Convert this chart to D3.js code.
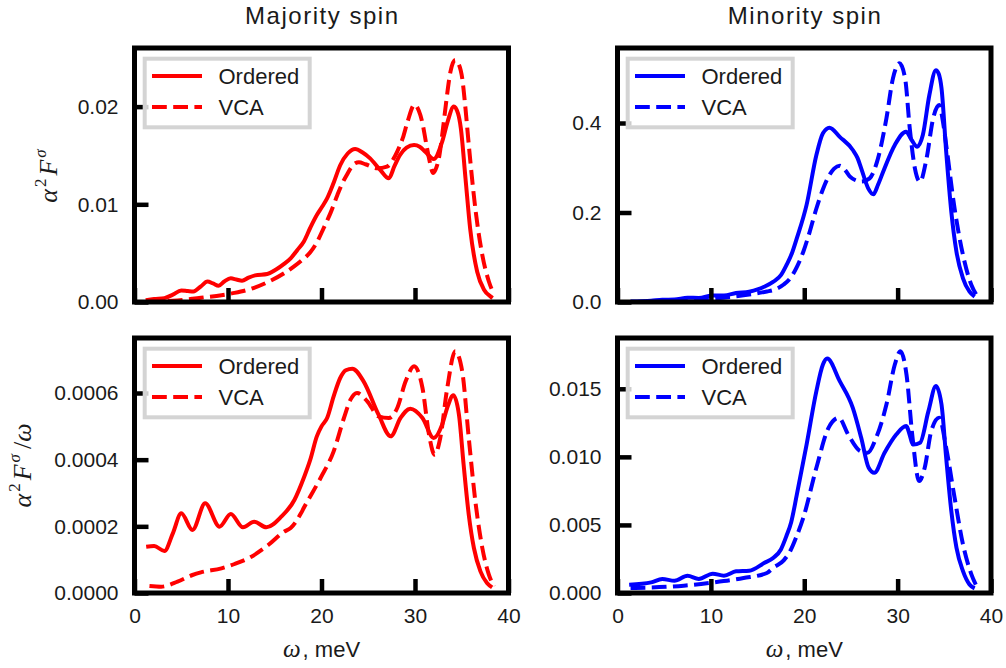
<!DOCTYPE html>
<html>
<head>
<meta charset="utf-8">
<script src="https://cdn.jsdelivr.net/npm/d3@7"></script>
<style>
  body { margin: 0; background: #fff; }
  text { font-family: "Liberation Sans", Arial, sans-serif; fill: #1a1a1a; }
  .math { font-family: "Liberation Serif", "DejaVu Serif", serif; font-style: italic; }
</style>
</head>
<body>
<div class="chart"></div>
<script>
const width = 1006;
const height = 668;

// shared x axis (omega, meV)
const xTicks = [0, 10, 20, 30, 40];
const seriesNames = ['Ordered', 'VCA'];
const columnTitles = ['Majority spin', 'Minority spin'];

// y ticks and their labels
const yTicksMajA2F = [0, 0.01, 0.02];
const yLabelsMajA2F = ['0.00', '0.01', '0.02'];
const yTicksMinA2F = [0, 0.2, 0.4];
const yLabelsMinA2F = ['0.0', '0.2', '0.4'];
const yTicksMajA2Fw = [0, 0.0002, 0.0004, 0.0006];
const yLabelsMajA2Fw = ['0.0000', '0.0002', '0.0004', '0.0006'];
const yTicksMinA2Fw = [0, 0.005, 0.010, 0.015];
const yLabelsMinA2Fw = ['0.000', '0.005', '0.010', '0.015'];

// majority spin, alpha^2 F  [omega, value]
const majOrderedA2F = [[1.2,0.00017],[2.1,0.0003],[3.2,0.0004],[4.1,0.00075],[5.0,0.00118],[5.7,0.00112],[6.3,0.00108],[7.1,0.0016],
  [7.8,0.0021],[8.4,0.0019],[9.0,0.00167],[9.6,0.0021],[10.3,0.00242],[10.9,0.0023],[11.5,0.00218],[12.2,0.0025],[12.9,0.00273],
  [14.2,0.00287],[15.1,0.0033],[16.0,0.0039],[16.7,0.00447],[17.4,0.0053],[18.1,0.00617],[18.8,0.0076],[19.5,0.0089],[20.1,0.0098],
  [20.6,0.0106],[21.3,0.0122],[22.0,0.0140],[22.8,0.0152],[23.6,0.01566],[24.4,0.0153],[25.2,0.0147],[26.3,0.0135],[27.2,0.01266],
  [27.8,0.0139],[28.4,0.01505],[29.1,0.0158],[29.9,0.01607],[30.5,0.0159],[31.1,0.01538],[32.0,0.01464],[32.9,0.0164],[33.5,0.0185],
  [34.15,0.0200],[34.6,0.0193],[34.9,0.0178],[35.4,0.01266],[35.9,0.0075],[36.65,0.0031],[37.4,0.00123],[38.1,0.00055],[38.3,0.0004]];
const majVcaA2F = [[1.3,0.00003],[2.9,0.00006],[4.6,0.00016],[6.2,0.00033],[7.1,0.00044],[9.3,0.00069],[10.7,0.00093],[12.5,0.00136],
  [14.3,0.00206],[16.0,0.00294],[17.0,0.0036],[17.8,0.0042],[18.8,0.0051],[19.5,0.0061],[20.2,0.0075],[21.0,0.0092],[21.7,0.01095],
  [22.2,0.0121],[22.7,0.0130],[23.2,0.0138],[23.6,0.0142],[24.0,0.0143],[24.7,0.0141],[26.0,0.01368],[27.0,0.01385],[27.6,0.0145],
  [28.1,0.0154],[28.7,0.0168],[29.2,0.01845],[29.95,0.0202],[30.4,0.0196],[30.8,0.0183],[31.2,0.0162],[31.5,0.0147],[31.95,0.0132],
  [32.3,0.0138],[32.55,0.0147],[33.0,0.0178],[33.3,0.0202],[33.8,0.0236],[34.3,0.02477],[34.7,0.0243],[35.05,0.0229],[35.4,0.0198],
  [35.75,0.0161],[36.5,0.0092],[37.2,0.0048],[37.9,0.0021],[38.4,0.0009]];

// minority spin, alpha^2 F
const minOrderedA2F = [[1.4,0.001],[3.6,0.0028],[4.8,0.005],[6.1,0.0055],[7.5,0.0095],[8.7,0.009],[10.2,0.0145],[11.4,0.0145],
  [12.7,0.020],[14.1,0.023],[15.0,0.028],[15.7,0.034],[16.7,0.0454],[17.5,0.060],[18.1,0.0827],[18.7,0.110],[19.2,0.142],[20.25,0.217],
  [21.3,0.3285],[22.0,0.377],[22.7,0.3896],[23.8,0.369],[25.2,0.3397],[25.7,0.322],[26.1,0.2987],[26.85,0.254],[27.4,0.2407],
  [27.9,0.262],[28.45,0.291],[29.7,0.351],[30.9,0.3806],[31.5,0.362],[32.1,0.347],[32.7,0.373],[33.4,0.4626],[34.1,0.518],[34.4,0.51],
  [34.7,0.4775],[35.2,0.336],[35.75,0.2018],[36.3,0.1124],[37.0,0.053],[37.7,0.023],[38.25,0.012]];
const minVcaA2F = [[1.4,0.0005],[3.6,0.0013],[7.1,0.0038],[10.3,0.008],[13.5,0.0149],[16.0,0.0235],[16.7,0.0268],[17.8,0.039],
  [18.5,0.053],[19.2,0.078],[19.9,0.1124],[20.6,0.158],[21.3,0.209],[22.0,0.252],[22.6,0.28],[23.2,0.298],[23.8,0.3046],[24.4,0.294],
  [24.9,0.28],[25.5,0.272],[26.1,0.269],[27.0,0.2764],[27.9,0.321],[28.8,0.4105],[29.5,0.4998],[30.2,0.5333],[30.8,0.4998],[31.3,0.388],
  [31.85,0.2987],[32.4,0.269],[33.1,0.321],[33.8,0.41],[34.45,0.44],[34.8,0.41],[35.2,0.351],[36.1,0.209],[37.0,0.105],[37.9,0.038],
  [38.45,0.0156]];

// majority spin, alpha^2 F / omega
const majOrderedA2Fw = [[1.25,0.000139],[2.1,0.000141],[3.2,0.000126],[4.1,0.000179],[5.0,0.000239],[6.2,0.000189],[7.56,0.000269],
  [9.1,0.000199],[10.3,0.000237],[11.6,0.000197],[12.8,0.000214],[14.1,0.000197],[15.7,0.000229],[17.1,0.000279],[18.1,0.000345],
  [18.8,0.0004],[19.5,0.00047],[20.0,0.0005],[20.6,0.000525],[21.3,0.00059],[22.0,0.000645],[22.6,0.000668],[23.3,0.000673],
  [24.5,0.000635],[26.1,0.000535],[27.4,0.00047],[28.45,0.000525],[29.5,0.000553],[30.8,0.000525],[32.0,0.000465],[32.9,0.000505],
  [33.5,0.00056],[34.1,0.000593],[34.7,0.000535],[35.2,0.000385],[35.75,0.000235],[36.3,0.000135],[37.0,0.000065],[37.7,0.00003],
  [38.25,0.000017]];
const majVcaA2Fw = [[1.6,0.000021],[2.85,0.000019],[4.6,0.000034],[6.2,0.000054],[7.1,0.000062],[9.3,0.000074],[10.7,0.000087],
  [12.5,0.000109],[14.3,0.000144],[16.0,0.000184],[16.7,0.000195],[17.8,0.000239],[18.1,0.000255],[19.9,0.000345],[21.3,0.000425],
  [22.4,0.000525],[23.1,0.00058],[23.8,0.0006],[24.9,0.000575],[26.1,0.00053],[27.2,0.000525],[28.1,0.000555],[29.0,0.000635],
  [29.9,0.00068],[30.8,0.000615],[31.5,0.000475],[32.1,0.000415],[32.7,0.000465],[33.45,0.000615],[34.3,0.000725],[35.05,0.000665],
  [35.75,0.000465],[36.5,0.000265],[37.2,0.000135],[37.9,0.000055],[38.45,0.00002]];

// minority spin, alpha^2 F / omega
const minOrderedA2Fw = [[1.25,0.00061],[3.6,0.00078],[4.8,0.00103],[6.1,0.0009],[7.5,0.00127],[8.7,0.00103],[10.2,0.00142],
  [11.4,0.00127],[12.7,0.00159],[14.1,0.00164],[15.7,0.0022],[16.7,0.00259],[17.5,0.0032],[18.1,0.0042],[18.6,0.0052],[19.2,0.0072],
  [20.25,0.0109],[21.3,0.01483],[22.0,0.01678],[22.45,0.01722],[23.8,0.01556],[25.2,0.0136],[26.1,0.0114],[26.9,0.0092],[27.5,0.00883],
  [28.6,0.0103],[29.85,0.01164],[30.9,0.01226],[31.7,0.0109],[32.4,0.01103],[33.3,0.01336],[34.1,0.0152],[34.7,0.01384],[35.2,0.00993],
  [35.75,0.00602],[36.3,0.00333],[37.0,0.00161],[37.7,0.00063],[38.25,0.00034]];
const minVcaA2Fw = [[1.4,0.00037],[3.6,0.0004],[7.1,0.00054],[10.3,0.00078],[13.5,0.0011],[16.0,0.00147],[16.7,0.00186],[17.8,0.0024],
  [18.5,0.00308],[19.2,0.0042],[19.9,0.00553],[21.3,0.0092],[22.6,0.01213],[23.7,0.01287],[24.7,0.01164],[26.0,0.01042],[26.8,0.0103],
  [27.7,0.0114],[28.8,0.01384],[29.7,0.01678],[30.3,0.01776],[30.95,0.01604],[31.6,0.0114],[32.3,0.00822],[32.9,0.0092],[33.6,0.01189],
  [34.45,0.01287],[35.2,0.01066],[36.1,0.007],[37.0,0.00357],[37.9,0.00137],[38.45,0.00051]];

const svg = d3.select('.chart').append('svg')
    .attr('width', width)
    .attr('height', height)
    .attr('viewBox', `0 0 ${width} ${height}`);

const panels = [
  { left: 134.5, right: 508.5, top: 48, bottom: 302, ymax: 0.026, color: '#ff0000',
    ticks: yTicksMajA2F, labels: yLabelsMajA2F, series: [majOrderedA2F, majVcaA2F], xLabels: false },
  { left: 617.5, right: 991, top: 48, bottom: 302, ymax: 0.5676, color: '#0000ff',
    ticks: yTicksMinA2F, labels: yLabelsMinA2F, series: [minOrderedA2F, minVcaA2F], xLabels: false },
  { left: 134.5, right: 508.5, top: 338, bottom: 593, ymax: 0.000765, color: '#ff0000',
    ticks: yTicksMajA2Fw, labels: yLabelsMajA2Fw, series: [majOrderedA2Fw, majVcaA2Fw], xLabels: true },
  { left: 617.5, right: 991, top: 338, bottom: 593, ymax: 0.01873, color: '#0000ff',
    ticks: yTicksMinA2Fw, labels: yLabelsMinA2Fw, series: [minOrderedA2Fw, minVcaA2Fw], xLabels: true }
];

function drawPanel(p) {
  const x = d3.scaleLinear().domain([0, 40]).range([p.left, p.right]);
  const y = d3.scaleLinear().domain([0, p.ymax]).range([p.bottom, p.top]);
  const g = svg.append('g');

  const line = d3.line()
      .x(d => x(d[0]))
      .y(d => y(d[1]))
      .curve(d3.curveMonotoneX);

  /* curves */
  p.series.forEach((s, i) => {
    g.append('path')
        .attr('d', line(s))
        .attr('fill', 'none')
        .attr('stroke', p.color)
        .attr('stroke-width', 4)
        .attr('stroke-linejoin', 'round')
        .attr('stroke-dasharray', i === 1 ? '14.8,6.4' : null);
  });

  /* frame */
  g.append('rect')
      .attr('x', p.left).attr('y', p.top)
      .attr('width', p.right - p.left).attr('height', p.bottom - p.top)
      .attr('fill', 'none').attr('stroke', '#000').attr('stroke-width', 5);

  /* axes, ticks pointing inward */
  const xAxis = d3.axisBottom(x).tickValues(xTicks)
      .tickSizeInner(-14).tickSizeOuter(0).tickPadding(15.5)
      .tickFormat(d => p.xLabels ? String(d) : '');
  const gx = g.append('g').attr('transform', `translate(0,${p.bottom})`).call(xAxis);

  const yAxis = d3.axisLeft(y).tickValues(p.ticks)
      .tickSizeInner(-14).tickSizeOuter(0).tickPadding(16)
      .tickFormat((d, i) => p.labels[i]);
  const gy = g.append('g').attr('transform', `translate(${p.left},0)`).call(yAxis);

  [gx, gy].forEach(a => {
    a.select('.domain').remove();
    a.attr('font-family', null).attr('font-size', 21);
    a.selectAll('.tick line').attr('stroke', '#000').attr('stroke-width', 4.5);
    a.selectAll('.tick text').attr('fill', '#1a1a1a');
  });

  /* legend */
  const lg = g.append('g');
  lg.append('rect')
      .attr('x', p.left + 10.2).attr('y', p.top + 10.7)
      .attr('width', 165).attr('height', 68.6)
      .attr('fill', '#fff').attr('fill-opacity', 0.8)
      .attr('stroke', '#d4d4d4').attr('stroke-width', 4);
  seriesNames.forEach((name, i) => {
    const ly = p.top + 28 + i * 31;
    lg.append('line')
        .attr('x1', p.left + 17.5).attr('x2', p.left + 67.5)
        .attr('y1', ly).attr('y2', ly)
        .attr('stroke', p.color).attr('stroke-width', 4)
        .attr('stroke-dasharray', i === 1 ? '14.8,6.4' : null);
    lg.append('text')
        .attr('x', p.left + 84).attr('y', ly + 7.8)
        .attr('font-size', 22)
        .text(name);
  });
}

panels.forEach(drawPanel);

/* column titles */
svg.selectAll('.col-title')
  .data(columnTitles)
  .enter()
  .append('text')
    .attr('class', 'col-title')
    .attr('x', (d, i) => (panels[i].left + panels[i].right) / 2)
    .attr('y', 24)
    .attr('text-anchor', 'middle')
    .attr('font-size', 24)
    .attr('textLength', 153)
    .attr('lengthAdjust', 'spacing')
    .text(d => d);

/* x labels: omega, meV */
[2, 3].forEach(k => {
  const t = svg.append('text')
      .attr('x', (panels[k].left + panels[k].right) / 2)
      .attr('y', 657)
      .attr('text-anchor', 'middle')
      .attr('font-size', 22);
  t.append('tspan').attr('class', 'math').attr('font-size', 25).text('ω');
  t.append('tspan').attr('dx', 2).text(', meV');
});

/* y labels */
function yLabel(xPos, yPos, withOmega) {
  const t = svg.append('text')
      .attr('transform', `translate(${xPos},${yPos}) rotate(-90)`)
      .attr('text-anchor', 'middle')
      .attr('font-size', 26);
  t.append('tspan').attr('class', 'math').text('α');
  t.append('tspan').attr('font-size', 17).attr('dy', -11).attr('dx', 2).attr('font-family', 'Liberation Serif').text('2');
  t.append('tspan').attr('class', 'math').attr('dy', 11).attr('dx', 3).text('F');
  t.append('tspan').attr('class', 'math').attr('font-size', 17).attr('dy', -11).attr('dx', 2).text('σ');
  if (withOmega) {
    t.append('tspan').attr('dy', 11).attr('dx', 5).attr('font-family', 'Liberation Serif').text('/');
    t.append('tspan').attr('class', 'math').text('ω');
  }
}
yLabel(57, 176, false);
yLabel(31, 465.5, true);
</script>
</body>
</html>
